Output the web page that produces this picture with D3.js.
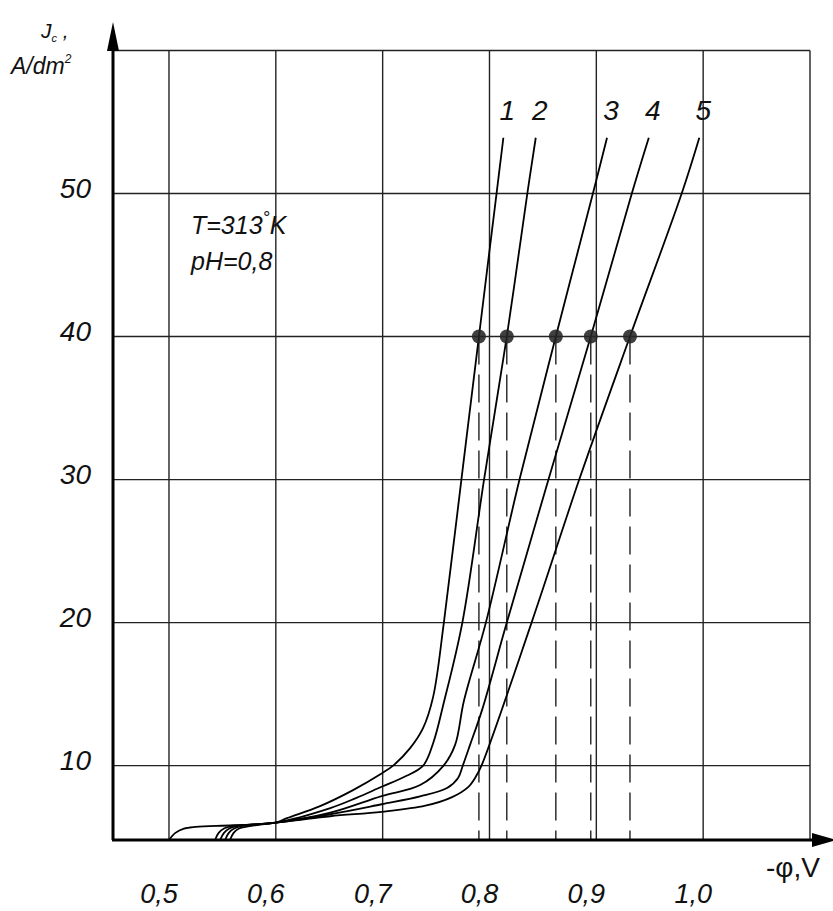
<!DOCTYPE html>
<html>
<head>
<meta charset="utf-8">
<script src="https://cdn.jsdelivr.net/npm/d3@7"></script>
<style>
  body { margin: 0; background: #fff; }
  text { font-family: "Liberation Sans", Arial, sans-serif; fill: #111; }
</style>
</head>
<body>
<script>
// curve names and points [-phi (V), Jc (A/dm2)]
const curveNames = ["1", "2", "3", "4", "5"];
const curve1 = [[0.500,4.8],[0.506,5.3],[0.514,5.6],[0.525,5.72],[0.560,5.83],[0.600,6.01],[0.6105,6.33],[0.6414,7.17],[0.6723,8.29],[0.699,9.45],[0.7098,10.0],[0.7257,11.22],[0.7378,12.62],[0.7472,14.79],[0.7573,20.0],[0.7737,30.0],[0.7901,40.0],[0.8066,50.0],[0.8130,53.9]];
const curve2 = [[0.5431,4.8],[0.5465,5.3],[0.5515,5.6],[0.562,5.8],[0.600,6.01],[0.651,7.03],[0.675,7.73],[0.699,8.52],[0.720,9.2],[0.7379,10.0],[0.7474,11.6],[0.7571,14.36],[0.7746,20.0],[0.7949,30.0],[0.8162,40.0],[0.8354,50.0],[0.8433,53.9]];
const curve3 = [[0.5478,4.8],[0.5515,5.3],[0.5565,5.6],[0.566,5.8],[0.600,6.01],[0.651,6.71],[0.699,7.87],[0.7351,8.64],[0.757,10.0],[0.7678,11.45],[0.7762,14.57],[0.7966,20.0],[0.8281,30.0],[0.8621,40.0],[0.8968,50.0],[0.9100,53.9]];
const curve4 = [[0.5525,4.8],[0.556,5.3],[0.561,5.6],[0.570,5.8],[0.600,6.01],[0.651,6.6],[0.699,7.3],[0.735,7.85],[0.7603,8.43],[0.7706,9.13],[0.775,10.0],[0.7818,11.45],[0.793,13.88],[0.8162,20.0],[0.8552,30.0],[0.8948,40.0],[0.9332,50.0],[0.9491,53.9]];
const curve5 = [[0.5571,4.8],[0.5605,5.3],[0.5655,5.6],[0.574,5.75],[0.600,6.01],[0.651,6.46],[0.699,6.77],[0.740,7.2],[0.765,7.8],[0.780,8.5],[0.787,9.2],[0.7925,10.0],[0.8394,20.0],[0.8840,30.0],[0.9315,40.0],[0.9799,50.0],[0.9964,53.9]];
const curves = [curve1, curve2, curve3, curve4, curve5];

// marked points at Jc = 40
const dotPhi = [0.7901, 0.8162, 0.8621, 0.8948, 0.9315];
const dotJ = 40;

// ticks
const xTicks = [0.5, 0.6, 0.7, 0.8, 0.9, 1.0];
const xTickLabels = ["0,5", "0,6", "0,7", "0,8", "0,9", "1,0"];
const xGrid = [0.5, 0.6, 0.7, 0.8, 0.9, 1.0, 1.1];
const yTicks = [10, 20, 30, 40, 50];
const yGrid = [10, 20, 30, 40, 50, 60];

const W = 833, H = 911;
const svg = d3.select("body").append("svg")
  .attr("width", W)
  .attr("height", H);

const x = d3.scaleLinear().domain([0.4476, 1.1]).range([113, 810]);
const y = d3.scaleLinear().domain([4.8, 60]).range([840, 50.5]);

// grid
svg.append("g").selectAll("line.v")
  .data(xGrid)
  .enter().append("line")
  .attr("x1", d => x(d)).attr("x2", d => x(d))
  .attr("y1", y(60)).attr("y2", y(4.8))
  .attr("stroke", "#222").attr("stroke-width", 1.4);

svg.append("g").selectAll("line.h")
  .data(yGrid)
  .enter().append("line")
  .attr("x1", x(0.4476)).attr("x2", x(1.1))
  .attr("y1", d => y(d)).attr("y2", d => y(d))
  .attr("stroke", "#222").attr("stroke-width", 1.4);

// dashed drop lines
svg.append("g").selectAll("line")
  .data(dotPhi)
  .enter().append("line")
  .attr("x1", d => x(d)).attr("x2", d => x(d))
  .attr("y1", y(dotJ)).attr("y2", y(4.8))
  .attr("stroke", "#222").attr("stroke-width", 1.4)
  .attr("stroke-dasharray", "28,10");

// curves
const line = d3.line()
  .x(d => x(d[0]))
  .y(d => y(d[1]))
  .curve(d3.curveCatmullRom.alpha(0.5));

svg.append("g").selectAll("path")
  .data(curves)
  .enter().append("path")
  .attr("d", line)
  .attr("fill", "none")
  .attr("stroke", "#000")
  .attr("stroke-width", 1.8);

// dots
svg.append("g").selectAll("circle")
  .data(dotPhi)
  .enter().append("circle")
  .attr("cx", d => x(d))
  .attr("cy", y(dotJ))
  .attr("r", 7)
  .attr("fill", "#262626")
  .attr("fill-opacity", 0.88);

// axes
svg.append("line")
  .attr("x1", 113).attr("x2", 113)
  .attr("y1", y(4.8)).attr("y2", 40)
  .attr("stroke", "#000").attr("stroke-width", 3);
svg.append("path")
  .attr("d", "M113,22L107,51L119,51Z")
  .attr("fill", "#000");

svg.append("line")
  .attr("x1", 112).attr("x2", 820)
  .attr("y1", y(4.8)).attr("y2", y(4.8))
  .attr("stroke", "#000").attr("stroke-width", 3);
svg.append("path")
  .attr("d", "M837,840L812,833L812,847Z")
  .attr("fill", "#000");

// tick labels
svg.append("g").selectAll("text")
  .data(yTicks)
  .enter().append("text")
  .attr("x", 91)
  .attr("y", d => y(d) + 4)
  .attr("text-anchor", "end")
  .attr("font-size", 28)
  .attr("font-style", "italic")
  .text(d => d);

svg.append("g").selectAll("text")
  .data(xTicks)
  .enter().append("text")
  .attr("x", d => x(d) - 10)
  .attr("y", 903)
  .attr("text-anchor", "middle")
  .attr("font-size", 27)
  .attr("font-style", "italic")
  .text((d, i) => xTickLabels[i]);

// curve labels
const lastPts = curves.map(c => c[c.length - 1]);
svg.append("g").selectAll("text")
  .data(curveNames)
  .enter().append("text")
  .attr("x", (d, i) => x(lastPts[i][0]) + 4)
  .attr("y", 120)
  .attr("text-anchor", "middle")
  .attr("font-size", 28)
  .attr("font-style", "italic")
  .text(d => d);

// axis titles
const yt = svg.append("text")
  .attr("x", 41).attr("y", 38)
  .attr("font-size", 21)
  .attr("font-style", "italic");
yt.append("tspan").text("J");
yt.append("tspan").attr("font-size", 11).attr("dy", 4).text("c");
yt.append("tspan").attr("dy", -4).text(" ,");

const yt2 = svg.append("text")
  .attr("x", 11).attr("y", 74)
  .attr("font-size", 23)
  .attr("font-style", "italic");
yt2.append("tspan").text("A/dm");
yt2.append("tspan").attr("font-size", 12).attr("dy", -11).text("2");

svg.append("text")
  .attr("x", 766).attr("y", 877)
  .attr("font-size", 28)
  .text("-φ,V");

// conditions
const t1 = svg.append("text")
  .attr("x", 191).attr("y", 234)
  .attr("font-size", 25)
  .attr("font-style", "italic");
t1.append("tspan").text("T=313");
t1.append("tspan").attr("dy", -10).attr("font-size", 18).text("°");
t1.append("tspan").attr("dy", 10).text("K");

svg.append("text")
  .attr("x", 191).attr("y", 270)
  .attr("font-size", 25)
  .attr("font-style", "italic")
  .text("pH=0,8");
</script>
</body>
</html>
